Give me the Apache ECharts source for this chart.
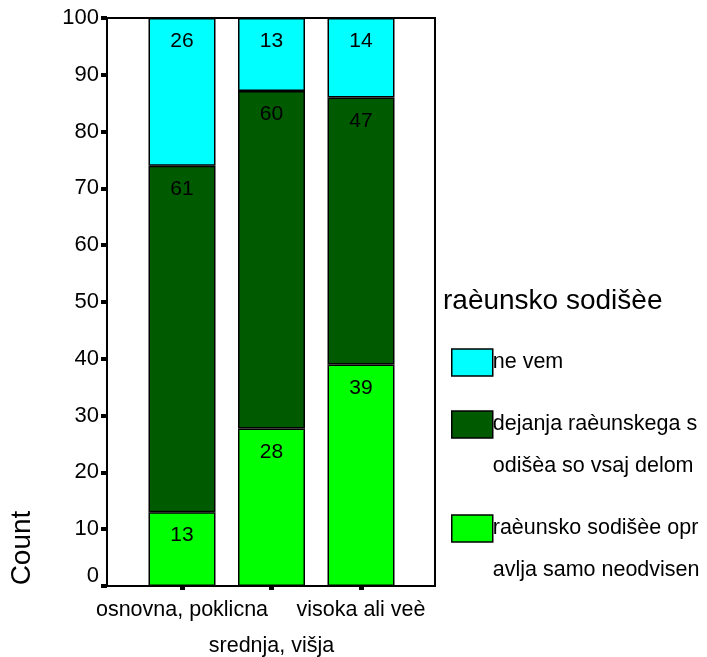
<!DOCTYPE html>
<html>
<head>
<meta charset="utf-8">
<script src="https://cdn.jsdelivr.net/npm/echarts@6/dist/echarts.min.js"></script>
<style>
html,body{margin:0;padding:0;background:#fff;}
#chart{width:707px;height:657px;}
</style>
</head>
<body>
<div id="chart"></div>
<script>
// ---- data ----
const categories = ['osnovna, poklicna', 'srednja, višja', 'visoka ali veè'];
const seriesNames = ['raèunsko sodišèe opravlja samo neodvisen', 'dejanja raèunskega sodišèa so vsaj delom', 'ne vem'];
const legendLabels = ['\nraèunsko sodišèe opr\navlja samo neodvisen', '\ndejanja raèunskega s\nodišèa so vsaj delom', 'ne vem'];
const countIndependent = [13, 28, 39];
const countPartly = [61, 60, 47];
const countDontKnow = [26, 13, 14];
const yTicks = [0, 100, 10]; // min, max, interval
const legendTitle = 'raèunsko sodišèe';
const yAxisTitle = 'Count';

const colors = ['#00ff00', '#005a00', '#00ffff'];
const counts = [countIndependent, countPartly, countDontKnow];
const totals = categories.map((c, i) => counts.reduce((s, arr) => s + arr[i], 0));

const FONT = 'Liberation Sans, Arial, sans-serif';
const chart = echarts.init(document.getElementById('chart'));

const series = counts.map((arr, k) => ({
  name: seriesNames[k],
  type: 'bar',
  stack: 'total',
  barWidth: 67,
  xAxisIndex: 0, yAxisIndex: 0,
  data: arr.map((v, i) => v / totals[i] * 100),
  itemStyle: { color: colors[k], borderColor: '#000', borderWidth: 1.5 },
  label: {
    show: true,
    position: 'insideTop',
    distance: 13,
    color: '#000',
    fontFamily: FONT,
    fontSize: 21,
    formatter: p => String(arr[p.dataIndex])
  },
  emphasis: { disabled: true }
}));

chart.setOption({
  animation: false,
  textStyle: { fontFamily: FONT },
  title: {
    text: legendTitle,
    left: 443, top: 287, padding: 0,
    textStyle: { fontFamily: FONT, fontSize: 28, fontWeight: 'normal', color: '#000' }
  },
  legend: {
    orient: 'vertical',
    left: 451, top: 336.5, padding: 0,
    itemWidth: 41, itemHeight: 27, itemGap: -32,
    icon: 'rect',
    selectedMode: false,
    data: [seriesNames[2], seriesNames[1], seriesNames[0]],
    formatter: name => legendLabels[seriesNames.indexOf(name)],
    itemStyle: { borderColor: '#000', borderWidth: 1.5 },
    textStyle: { fontFamily: FONT, fontSize: 21.5, lineHeight: 42, color: '#000', padding: [10, 0, 0, -5] }
  },
  grid: [
    { left: 137.25, right: 301.25, top: 18, bottom: 71, show: false, containLabel: false, outerBoundsMode: 'none' },
    { left: 107, right: 272, top: 18, bottom: 71, show: true, borderColor: '#000', borderWidth: 2, z: 5, containLabel: false, outerBoundsMode: 'none' }
  ],
  xAxis: [{
    type: 'category',
    gridIndex: 0,
    data: categories,
    axisLine: { show: false },
    axisTick: { show: true, alignWithLabel: true, length: 4, lineStyle: { color: '#000', width: 5 } },
    axisLabel: {
      interval: 0,
      margin: 6,
      color: '#000', fontFamily: FONT, fontSize: 21.5, lineHeight: 36,
      formatter: (v, i) => i === 1 ? '\n' + v : v
    }
  }, {
    type: 'value', gridIndex: 1, show: false
  }],
  yAxis: [{
    type: 'value',
    gridIndex: 0,
    offset: 30.25,
    min: yTicks[0], max: yTicks[1], interval: yTicks[2],
    splitLine: { show: false },
    axisLine: { show: true, lineStyle: { color: '#000', width: 2 } },
    axisTick: { show: true, length: 6, lineStyle: { color: '#000', width: 4 } },
    axisLabel: {
      margin: 8,
      color: '#000', fontFamily: FONT, fontSize: 22,
      formatter: v => v === 0 ? '{z|0}' : String(v),
      rich: { z: { fontFamily: FONT, fontSize: 22, color: '#000', padding: [0, 0, 20, 0] } }
    }
  }, {
    type: 'value', gridIndex: 1, show: false
  }],
  graphic: [{
    type: 'text',
    x: 22, y: 548,
    rotation: Math.PI / 2,
    style: {
      text: yAxisTitle,
      fill: '#000',
      font: '28px ' + FONT,
      textAlign: 'center',
      textVerticalAlign: 'middle'
    }
  }],
  series: series
});
</script>
</body>
</html>
